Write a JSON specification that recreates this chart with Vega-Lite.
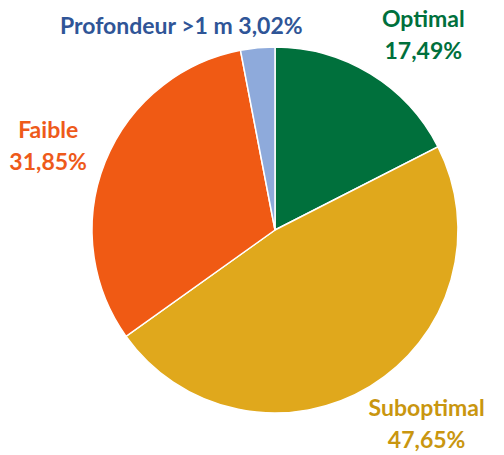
{
  "$schema": "https://vega.github.io/schema/vega-lite/v6.json",
  "width": 458,
  "height": 450,
  "autosize": "none",
  "padding": {"left": 46, "top": 5, "right": 0, "bottom": 0},
  "background": "white",
  "config": {"view": {"stroke": null}},
  "data": {"values": [
    {"cat": "Optimal", "value": 17.49, "n": 1, "label": "Optimal\n17,49%"},
    {"cat": "Suboptimal", "value": 47.65, "n": 2, "label": "Suboptimal\n47,65%"},
    {"cat": "Faible", "value": 31.85, "n": 3, "label": "Faible\n31,85%"},
    {"cat": "Profondeur", "value": 3.02, "n": 4, "label": "Profondeur >1 m 3,02%"}
  ]},
  "encoding": {
    "theta": {"field": "value", "type": "quantitative", "stack": true},
    "order": {"field": "n", "type": "quantitative"}
  },
  "layer": [
    {
      "mark": {"type": "arc", "radius": 183, "stroke": "white", "strokeWidth": 1.5},
      "encoding": {
        "color": {"field": "cat", "type": "nominal", "legend": null,
          "scale": {"domain": ["Optimal", "Suboptimal", "Faible", "Profondeur"],
                    "range": ["#00703C", "#E0A81C", "#F05A14", "#8EAADB"]}}
      }
    },
    {
      "mark": {"type": "text", "radius": 240, "dx": 23, "dy": -5, "font": "Lato", "fontWeight": "bold", "fontSize": 23, "lineBreak": "\n", "lineHeight": 32, "color": "#00703C", "align": "center", "baseline": "middle"},
      "encoding": {"text": {"condition": {"test": "datum.cat === 'Optimal'", "field": "label"}, "value": ""}}
    },
    {
      "mark": {"type": "text", "radius": 240, "dx": 27, "dy": -26, "font": "Lato", "fontWeight": "bold", "fontSize": 23, "lineBreak": "\n", "lineHeight": 32, "color": "#C9960F", "align": "center", "baseline": "middle"},
      "encoding": {"text": {"condition": {"test": "datum.cat === 'Suboptimal'", "field": "label"}, "value": ""}}
    },
    {
      "mark": {"type": "text", "radius": 240, "dx": -4, "dy": -10, "font": "Lato", "fontWeight": "bold", "fontSize": 23, "lineBreak": "\n", "lineHeight": 32, "color": "#EE5A1A", "align": "center", "baseline": "middle"},
      "encoding": {"text": {"condition": {"test": "datum.cat === 'Faible'", "field": "label"}, "value": ""}}
    },
    {
      "mark": {"type": "text", "radius": 240, "dx": -71, "dy": 36, "font": "Lato", "fontWeight": "bold", "fontSize": 23, "color": "#2F5597", "align": "center", "baseline": "middle"},
      "encoding": {"text": {"condition": {"test": "datum.cat === 'Profondeur'", "field": "label"}, "value": ""}}
    }
  ]
}
